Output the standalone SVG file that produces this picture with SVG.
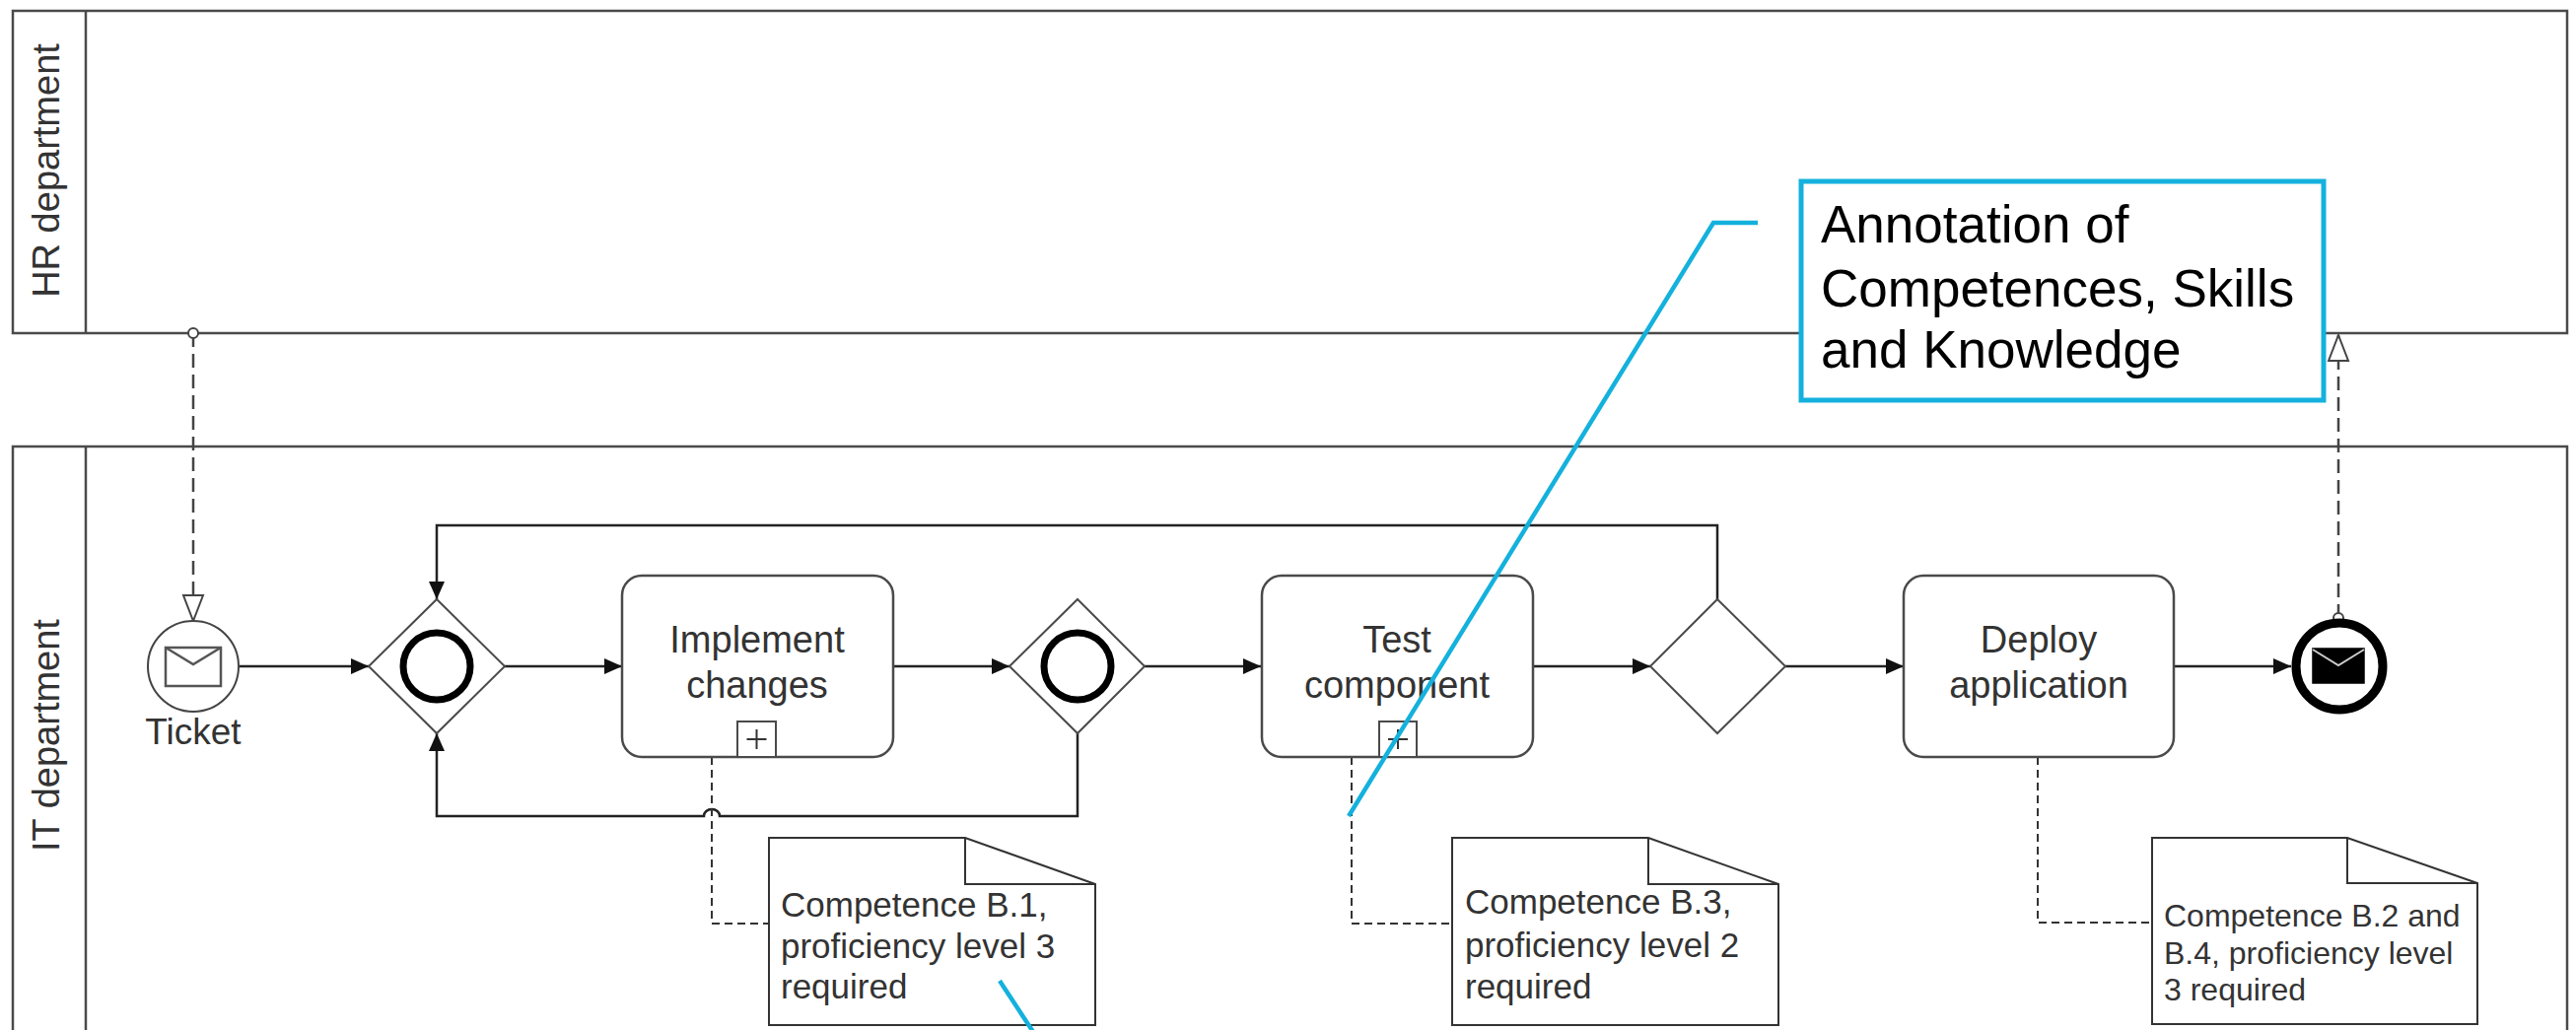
<svg xmlns="http://www.w3.org/2000/svg" width="2613" height="1045" viewBox="0 0 2613 1045">
  <style>
    .pool { fill: #ffffff; stroke: #4a4a4a; stroke-width: 2.5; }
    .lane-label { font-family: "Liberation Sans", Arial, sans-serif; font-size: 38px; fill: #333333; text-anchor: middle; }
    .task { fill: #ffffff; stroke: #4a4a4a; stroke-width: 2.5; }
    .task-label { font-family: "Liberation Sans", Arial, sans-serif; font-size: 38px; fill: #333333; text-anchor: middle; }
    .marker-box { fill: #ffffff; stroke: #4a4a4a; stroke-width: 2; }
    .marker-plus { fill: none; stroke: #333333; stroke-width: 2; }
    .gateway { fill: #ffffff; stroke: #4a4a4a; stroke-width: 2; }
    .gateway-ring { fill: none; stroke: #000000; stroke-width: 7; }
    .event-start { fill: #ffffff; stroke: #444444; stroke-width: 2; }
    .event-end { fill: #ffffff; stroke: #000000; stroke-width: 9; }
    .envelope { fill: #ffffff; stroke: #555555; stroke-width: 2.5; }
    .envelope-filled { fill: #000000; stroke: #000000; stroke-width: 1.5; }
    .envelope-flap { fill: none; stroke: #555555; stroke-width: 2.5; }
    .envelope-flap-light { fill: none; stroke: #cccccc; stroke-width: 2; }
    .event-label { font-family: "Liberation Sans", Arial, sans-serif; font-size: 37px; fill: #333333; text-anchor: middle; }
    .seq { fill: none; stroke: #222222; stroke-width: 2.5; marker-end: url(#seqArrow); }
    .seq-plain { fill: none; stroke: #444444; stroke-width: 2.5; }
    .msg { fill: none; stroke: #444444; stroke-width: 2.5; stroke-dasharray: 14 7; marker-start: url(#msgStart); marker-end: url(#msgArrow); }
    .assoc { fill: none; stroke: #333333; stroke-width: 2; stroke-dasharray: 8 5; }
    .note { fill: #ffffff; stroke: #333333; stroke-width: 2; }
    .note-fold { fill: none; stroke: #333333; stroke-width: 2; }
    .note-text { font-family: "Liberation Sans", Arial, sans-serif; font-size: 35px; fill: #333333; }
    .note-text-small { font-family: "Liberation Sans", Arial, sans-serif; font-size: 32px; fill: #333333; }
    .callout { fill: #ffffff; stroke: #14b1dd; stroke-width: 5; }
    .callout-line { fill: none; stroke: #14b1dd; stroke-width: 4.5; }
    .callout-text { font-family: "Liberation Sans", Arial, sans-serif; font-size: 53px; fill: #000000; }
  </style>
  <defs>
    <marker id="seqArrow" markerUnits="userSpaceOnUse" markerWidth="20" markerHeight="18" refX="18" refY="8" orient="auto">
      <path d="M0,0 L18,8 L0,16 Z" fill="#111111"/>
    </marker>
    <marker id="msgArrow" markerUnits="userSpaceOnUse" markerWidth="32" markerHeight="26" refX="28" refY="12" orient="auto">
      <path d="M2,2 L28,12 L2,22 Z" fill="#ffffff" stroke="#444444" stroke-width="2"/>
    </marker>
    <marker id="msgStart" markerUnits="userSpaceOnUse" markerWidth="16" markerHeight="16" refX="8" refY="8" orient="auto">
      <circle cx="8" cy="8" r="5" fill="#ffffff" stroke="#444444" stroke-width="2"/>
    </marker>
  </defs>

  <rect width="2613" height="1045" fill="#ffffff"/>

  <!-- Pools -->
  <g id="pool-hr">
    <rect class="pool" x="13" y="11" width="2591" height="327"/>
    <line class="pool" x1="87" y1="11" x2="87" y2="338"/>
    <text class="lane-label" transform="translate(60,173) rotate(-90)">HR department</text>
  </g>
  <g id="pool-it">
    <rect class="pool" x="13" y="453" width="2591" height="620"/>
    <line class="pool" x1="87" y1="453" x2="87" y2="1073"/>
    <text class="lane-label" transform="translate(60,746) rotate(-90)">IT department</text>
  </g>

  <!-- Sequence and message flows -->
  <g id="connectors">
    <line class="seq" x1="243" y1="676" x2="374" y2="676"/>
    <line class="seq" x1="512" y1="676" x2="631" y2="676"/>
    <line class="seq" x1="906" y1="676" x2="1024" y2="676"/>
    <line class="seq" x1="1161" y1="676" x2="1279" y2="676"/>
    <line class="seq" x1="1555" y1="676" x2="1674" y2="676"/>
    <line class="seq" x1="1811" y1="676" x2="1931" y2="676"/>
    <line class="seq" x1="2205" y1="676" x2="2324" y2="676"/>
    <!-- loop back over the top -->
    <path class="seq" d="M1742,608 V533 H443 V608"/>
    <!-- loop back underneath, hopping over the association -->
    <path class="seq" d="M1093,744 V828 H730 A8,7 0 0 0 714,828 H443 V744"/>
    <!-- message flows between pools -->
    <path class="msg" d="M196,338 V630"/>
    <path class="msg" d="M2372,627 V340"/>
    <!-- associations to notes -->
    <path class="assoc" d="M722,768 V937 H780"/>
    <path class="assoc" d="M1371,768 V937 H1473"/>
    <path class="assoc" d="M2067,768 V936 H2183"/>
  </g>

  <!-- Events -->
  <g id="start-ticket">
    <circle class="event-start" cx="196" cy="676" r="46"/>
    <rect class="envelope" x="168" y="657" width="56" height="39"/>
    <path class="envelope-flap" d="M168,657 L196,674 L224,657"/>
    <text class="event-label" x="196" y="755">Ticket</text>
  </g>
  <g id="end-message">
    <circle class="event-end" cx="2373" cy="676" r="44"/>
    <rect class="envelope-filled" x="2346" y="658" width="52" height="35"/>
    <path class="envelope-flap-light" d="M2346,659 L2372,675 L2398,659"/>
  </g>

  <!-- Gateways -->
  <g id="gateway-1">
    <polygon class="gateway" points="443,608 512,676 443,744 374,676"/>
    <circle class="gateway-ring" cx="443" cy="676" r="34"/>
  </g>
  <g id="gateway-2">
    <polygon class="gateway" points="1093,608 1161,676 1093,744 1024,676"/>
    <circle class="gateway-ring" cx="1093" cy="676" r="34"/>
  </g>
  <g id="gateway-3">
    <polygon class="gateway" points="1742,608 1811,676 1742,744 1674,676"/>
  </g>

  <!-- Tasks -->
  <g id="task-implement">
    <rect class="task" x="631" y="584" width="275" height="184" rx="20" ry="20"/>
    <text class="task-label" x="768" y="662">Implement</text>
    <text class="task-label" x="768" y="708">changes</text>
    <rect class="marker-box" x="748" y="732" width="39" height="36"/>
    <path class="marker-plus" d="M767.5,740 V760 M757.5,750 H777.5"/>
  </g>
  <g id="task-test">
    <rect class="task" x="1280" y="584" width="275" height="184" rx="20" ry="20"/>
    <text class="task-label" x="1417" y="662">Test</text>
    <text class="task-label" x="1417" y="708">component</text>
    <rect class="marker-box" x="1399" y="732" width="38" height="36"/>
    <path class="marker-plus" d="M1418,740 V760 M1408,750 H1428"/>
  </g>
  <g id="task-deploy">
    <rect class="task" x="1931" y="584" width="274" height="184" rx="20" ry="20"/>
    <text class="task-label" x="2068" y="662">Deploy</text>
    <text class="task-label" x="2068" y="708">application</text>
  </g>

  <!-- Text annotations -->
  <g id="note-b1">
    <path class="note" d="M780,850 H979 L1111,897 V1040 H780 Z"/>
    <path class="note-fold" d="M979,850 V897 H1111"/>
    <text class="note-text" x="792" y="930">Competence B.1,</text>
    <text class="note-text" x="792" y="972">proficiency level 3</text>
    <text class="note-text" x="792" y="1013">required</text>
  </g>
  <g id="note-b3">
    <path class="note" d="M1473,850 H1672 L1804,897 V1040 H1473 Z"/>
    <path class="note-fold" d="M1672,850 V897 H1804"/>
    <text class="note-text" x="1486" y="927">Competence B.3,</text>
    <text class="note-text" x="1486" y="971">proficiency level 2</text>
    <text class="note-text" x="1486" y="1013">required</text>
  </g>
  <g id="note-b2-b4">
    <path class="note" d="M2183,850 H2381 L2513,896 V1039 H2183 Z"/>
    <path class="note-fold" d="M2381,850 V896 H2513"/>
    <text class="note-text-small" x="2195" y="940">Competence B.2 and</text>
    <text class="note-text-small" x="2195" y="978">B.4, proficiency level</text>
    <text class="note-text-small" x="2195" y="1015">3 required</text>
  </g>

  <!-- Callout -->
  <g id="callout-csk">
    <rect class="callout" x="1827" y="184" width="530" height="222"/>
    <text class="callout-text" x="1847" y="246">Annotation of</text>
    <text class="callout-text" x="1847" y="311">Competences, Skills</text>
    <text class="callout-text" x="1847" y="373">and Knowledge</text>
  </g>
  <g id="callout-links">
    <path class="callout-line" d="M1783,226 H1738 L1368,828"/>
    <path class="callout-line" d="M1014,995 L1050,1050"/>
  </g>
</svg>
